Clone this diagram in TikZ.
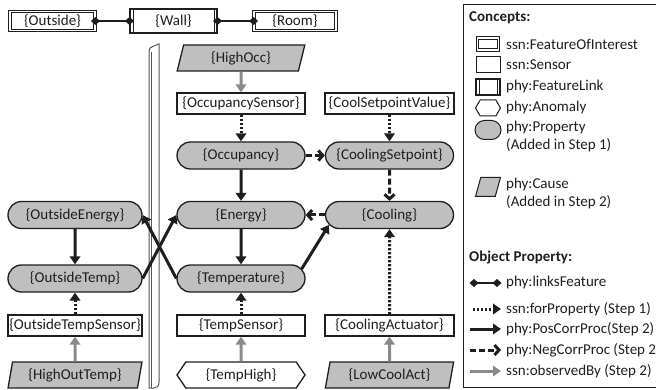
\documentclass[tikz,border=0pt]{standalone}
\usepackage{fontspec}
\setmainfont{Carlito}
\usetikzlibrary{arrows.meta,shapes.misc,shapes.geometric,shapes.symbols,calc}
\definecolor{propgray}{RGB}{191,191,191}
\definecolor{obsgray}{RGB}{138,138,138}
\definecolor{ink}{RGB}{30,30,30}
\begin{document}
\begin{tikzpicture}[x=1pt,y=-1pt,
  every node/.style={font=\fontsize{15}{17.5}\selectfont, text=ink, inner sep=0pt},
  sensor/.style={draw=ink, line width=1.3pt, fill=white, rectangle, minimum height=21pt},
  foi/.style={draw=ink, line width=0.9pt, double=white, double distance=1.6pt, fill=white, rectangle},
  flink/.style={draw=ink, line width=1.1pt, fill=white, rectangle,
    path picture={\draw[ink,line width=1pt] ([xshift=3pt]path picture bounding box.north west) -- ([xshift=3pt]path picture bounding box.south west);
                  \draw[ink,line width=1pt] ([xshift=-3pt]path picture bounding box.north east) -- ([xshift=-3pt]path picture bounding box.south east);}},
  prop/.style={draw=ink, line width=1.3pt, fill=propgray, rounded rectangle, minimum height=27pt},
  cause/.style={draw=ink, line width=1.3pt, fill=propgray, trapezium, trapezium left angle=76, trapezium right angle=104, trapezium stretches=true, minimum height=26pt},
  anomaly/.style={draw=ink, line width=1.3pt, fill=white, signal, signal to=west and east, signal pointer angle=112, minimum height=26pt},
  forarrow/.style={draw=ink, line width=3pt, dash pattern=on 2.2pt off 1.8pt, -{Triangle[length=8pt,width=10.5pt]}},
  posarrow/.style={draw=ink, line width=3pt, -{Triangle[length=8pt,width=10.5pt]}},
  negarrow/.style={draw=ink, line width=3pt, dash pattern=on 6pt off 3pt, -{Straight Barb[length=4.5pt,width=10pt]}},
  obsarrow/.style={draw=obsgray, line width=3pt, -{Triangle[length=8pt,width=10.5pt]}},
  linkline/.style={draw=ink, line width=2.8pt, {Diamond[length=9pt,width=8pt]}-{Diamond[length=9pt,width=8pt]}, shorten <=-4.5pt, shorten >=-4.5pt},
  legtext/.style={anchor=west, align=left},
  legbold/.style={anchor=west, font=\fontsize{15}{17.5}\selectfont\bfseries}
]
\useasboundingbox (0,0) rectangle (656,390);

% wall (vertical scroll)
\draw[ink!75, line width=1pt, fill=white] (149,388) -- (149,53) .. controls (149,48) and (151,46) .. (154,46) -- (159,44) -- (159,382) .. controls (159,386) and (157,388) .. (154,388) -- cycle;
\draw[ink!75, line width=0.8pt] (151.5,52) -- (151.5,388);

% top row
\node[foi, minimum width=85pt, minimum height=19pt] (Outside) at (52.5,21) {\{Outside\}};
\node[flink, minimum width=87pt, minimum height=24pt] (Wall) at (173.5,21) {\{Wall\}};
\node[foi, minimum width=82pt, minimum height=19pt] (Room) at (295,21) {\{Room\}};

% column 2
\node[cause, minimum width=128pt] (HighOcc) at (241,58) {\{HighOcc\}};
\node[sensor, minimum width=128pt] (OccupancySensor) at (241,103.5) {\{OccupancySensor\}};
\node[prop, minimum width=128pt] (Occupancy) at (241,155.5) {\{Occupancy\}};
\node[prop, minimum width=128pt] (Energy) at (241,215) {\{Energy\}};
\node[prop, minimum width=128pt] (Temperature) at (241,278.5) {\{Temperature\}};
\node[sensor, minimum width=128pt] (TempSensor) at (241,325.5) {\{TempSensor\}};
\node[anomaly, minimum width=128pt] (TempHigh) at (241,375) {\{TempHigh\}};

% column 1
\node[prop, minimum width=134pt] (OutsideEnergy) at (75,215) {\{OutsideEnergy\}};
\node[prop, minimum width=134pt] (OutsideTemp) at (75,278.5) {\{OutsideTemp\}};
\node[sensor, minimum width=134pt] (OutsideTempSensor) at (75,325.5) {\{OutsideTempSensor\}};
\node[cause, minimum width=134pt] (HighOutTemp) at (75,375) {\{HighOutTemp\}};

% column 3
\node[sensor, minimum width=129pt] (CoolSetpointValue) at (389.5,103.5) {\{CoolSetpointValue\}};
\node[prop, minimum width=128pt] (CoolingSetpoint) at (389.5,155.5) {\{CoolingSetpoint\}};
\node[prop, minimum width=128pt] (Cooling) at (389.5,215) {\{Cooling\}};
\node[sensor, minimum width=129pt] (CoolingActuator) at (389.5,325.5) {\{CoolingActuator\}};
\node[cause, minimum width=129pt] (LowCoolAct) at (389.5,375) {\{LowCoolAct\}};

% links
\draw[linkline] (Outside.east) -- (Wall.west);
\draw[linkline] (Wall.east) -- (Room.west);

% connectors
\draw[obsarrow] (HighOcc) -- (OccupancySensor);
\draw[forarrow] (OccupancySensor) -- (Occupancy);
\draw[forarrow] (CoolSetpointValue) -- (CoolingSetpoint);
\draw[negarrow] (Occupancy.east) -- (CoolingSetpoint.west);
\draw[posarrow] (Occupancy) -- (Energy);
\draw[negarrow] (CoolingSetpoint) -- (Cooling);
\draw[negarrow] (Cooling.west) -- (Energy.east);
\draw[posarrow] (Energy) -- (Temperature);
\coordinate (tstart) at ([shift={(-4,-9.5)}]Temperature.east);
\coordinate (cend) at ([shift={(4,10)}]Cooling.west);
\draw[posarrow] (tstart) -- (cend);
\draw[posarrow] (OutsideEnergy) -- (OutsideTemp);
\draw[posarrow] (OutsideTemp.east) -- (Energy.west);
\draw[posarrow] (Temperature.west) -- (OutsideEnergy.east);
\draw[forarrow] (OutsideTempSensor) -- (OutsideTemp);
\draw[obsarrow] (HighOutTemp) -- (OutsideTempSensor);
\draw[forarrow] (TempSensor) -- (Temperature);
\draw[obsarrow] (TempHigh) -- (TempSensor);
\draw[forarrow] (CoolingActuator) -- (Cooling);
\draw[obsarrow] (LowCoolAct) -- (CoolingActuator);

% legend
\draw[ink, line width=1pt] (463,5) rectangle (700,387);
\node[legbold] (lgConcepts) at (469,18) {Concepts:};
\node[foi, minimum width=21pt, minimum height=12pt] (lgFoi) at (488,44) {};
\node[legtext] (lgFoiT) at (506,44) {ssn:FeatureOfInterest};
\node[sensor, line width=1pt, minimum width=24pt, minimum height=16pt] (lgSensor) at (488,65) {};
\node[legtext] (lgSensorT) at (506,65) {ssn:Sensor};
\node[flink, minimum width=24pt, minimum height=16pt] (lgLink) at (488,87) {};
\node[legtext] (lgLinkT) at (506,87) {phy:FeatureLink};
\node[anomaly, line width=1pt, inner sep=2pt, signal pointer angle=120, minimum width=25pt, minimum height=16pt] (lgAnom) at (488,108) {};
\node[legtext] (lgAnomT) at (506,108) {phy:Anomaly};
\node[prop, line width=1pt, minimum width=26pt, minimum height=19pt] (lgProp) at (488,130) {};
\node[legtext, anchor=north west] (lgPropT) at (506,121) {phy:Property\\(Added in Step 1)};
\node[cause, line width=1pt, inner sep=2pt, minimum width=25pt, minimum height=19pt, trapezium left angle=70, trapezium right angle=110] (lgCause) at (488,187) {};
\node[legtext, anchor=north west] (lgCauseT) at (506,178) {phy:Cause\\(Added in Step 2)};

\node[legbold] (lgObj) at (469,258) {Object Property:};
\coordinate (l1a) at (474,283); \coordinate (l1b) at (497,283);
\draw[linkline] (l1a) -- (l1b);
\node[legtext] (l1T) at (506,283) {phy:linksFeature};
\coordinate (l2a) at (473,309); \coordinate (l2b) at (501,309);
\draw[forarrow] (l2a) -- (l2b);
\node[legtext] (l2T) at (506,309) {ssn:forProperty (Step 1)};
\coordinate (l3a) at (470,329); \coordinate (l3b) at (501,329);
\draw[posarrow] (l3a) -- (l3b);
\node[legtext] (l3T) at (506,329) {phy:PosCorrProc(Step 2)};
\coordinate (l4a) at (470,350); \coordinate (l4b) at (501,350);
\draw[negarrow] (l4a) -- (l4b);
\node[legtext] (l4T) at (506,350) {phy:NegCorrProc (Step 2)};
\coordinate (l5a) at (470,371); \coordinate (l5b) at (501,371);
\draw[obsarrow] (l5a) -- (l5b);
\node[legtext] (l5T) at (506,371) {ssn:observedBy (Step 2)};
\end{tikzpicture}
\end{document}
